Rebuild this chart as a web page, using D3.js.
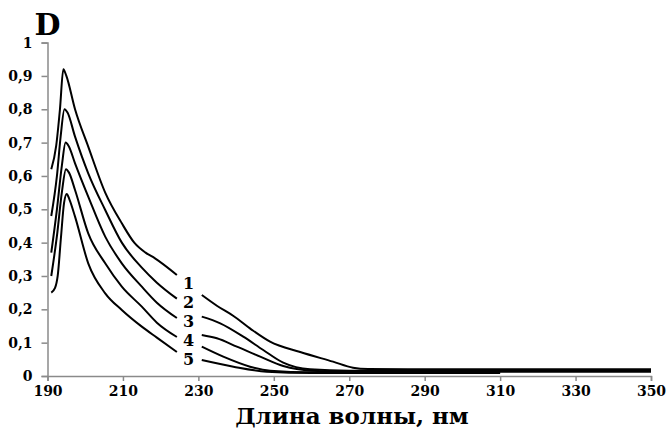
<!DOCTYPE html>
<html>
<head>
<meta charset="utf-8">
<script src="https://cdn.jsdelivr.net/npm/d3@7"></script>
<style>
body{margin:0;background:#fff;}
</style>
</head>
<body>
<div id="chart"></div>
<script>
// spectra D(lambda), 5 curves; null = break where the curve number sits
var curve1=[[191,0.62],[192.3,0.69],[193.3,0.80],[194.2,0.92],[195,0.90],[197.3,0.80],[200.8,0.688],[205.3,0.55],[209.7,0.458],[213,0.40],[216,0.37],[218.5,0.353],[224.3,0.303],
    [227,null],[230.9,0.243],[235,0.21],[239.3,0.18],[244,0.14],[249,0.103],[257,0.072],[265.7,0.043],[271,0.025],[275,0.021],[290,0.02],[350,0.02]];
var curve2=[[191,0.48],[192.5,0.60],[193.5,0.72],[194.5,0.80],[195.3,0.79],[197.3,0.718],[200.8,0.608],[205.3,0.498],[209.7,0.40],[215,0.325],[219,0.28],[224.3,0.232],
    [227,null],[230.9,0.178],[235.8,0.158],[241.9,0.118],[247.2,0.078],[252.5,0.04],[259.6,0.02],[270,0.016],[350,0.016]];
var curve3=[[191,0.37],[192.5,0.50],[193.8,0.63],[194.8,0.70],[195.6,0.69],[197.3,0.638],[200.8,0.538],[205.3,0.418],[209.7,0.338],[215,0.268],[219,0.22],[224.3,0.174],
    [227,null],[230.9,0.123],[234.9,0.113],[240.2,0.088],[246.4,0.058],[252.5,0.03],[260,0.016],[270,0.013],[350,0.013]];
var curve4=[[191,0.30],[192.5,0.42],[193.8,0.55],[194.9,0.62],[195.7,0.61],[197.3,0.558],[200.8,0.428],[205.3,0.338],[209.7,0.268],[215,0.208],[219,0.16],[224.3,0.117],
    [227,null],[230.9,0.088],[236.6,0.058],[243.7,0.028],[249,0.016],[260,0.011],[310,0.011]];
var curve5=[[191,0.25],[192,0.264],[192.7,0.30],[193.6,0.42],[194.4,0.52],[195.1,0.546],[195.8,0.53],[197.3,0.478],[200.8,0.338],[205.3,0.248],[209.7,0.198],[215,0.148],[219,0.115],[224.3,0.072],
    [227,null],[230.9,0.048],[239.3,0.028],[248.1,0.013],[260,0.009],[310,0.009]];

var curves=[curve1,curve2,curve3,curve4,curve5];
var curveNames=["1","2","3","4","5"];
var labelWave=227.4;
var labelD=[0.278,0.220,0.163,0.106,0.049];

var xTicks=[190,210,230,250,270,290,310,330,350];
var yTicks=[0,0.1,0.2,0.3,0.4,0.5,0.6,0.7,0.8,0.9,1];

var font='"DejaVu Serif","Liberation Serif",serif';

var svgWidth=666;
var svgHeight=432;
var margin={top:42.6,right:15,bottom:56,left:47.5};

var svg=d3.select("#chart")
    .append("svg")
    .attr("width",svgWidth)
    .attr("height",svgHeight);

var x=d3.scaleLinear().domain([190,350]).range([margin.left,651]);
var y=d3.scaleLinear().domain([0,1]).range([svgHeight-margin.bottom,margin.top]);

var axisColor="#8a8a8a";

// x axis
var xAxis=svg.append("g")
    .attr("transform",`translate(0,${y(0)})`)
    .call(d3.axisBottom(x).tickValues(xTicks).tickSize(5).tickPadding(5));

// y axis
var yAxis=svg.append("g")
    .attr("transform",`translate(${x(190)},0)`)
    .call(d3.axisLeft(y).tickValues(yTicks).tickSize(6).tickPadding(9)
        .tickFormat(d=>d===0?"0":d===1?"1":d3.format(".1f")(d).replace(".",",")));

svg.selectAll(".domain, .tick line").attr("stroke",axisColor).attr("stroke-width",1.5);
svg.selectAll(".tick text")
    .style("font-family",font)
    .style("font-weight","bold")
    .style("font-size","14px")
    .attr("fill","#000");

// curves
var line=d3.line()
    .defined(d=>d[1]!==null)
    .x(d=>x(d[0]))
    .y(d=>y(d[1]))
    .curve(d3.curveMonotoneX);

svg.append("g").selectAll("path")
    .data(curves)
    .enter()
    .append("path")
    .attr("d",line)
    .attr("fill","none")
    .attr("stroke","#000")
    .attr("stroke-width",2);

// curve numbers in the break
svg.append("g").selectAll("text")
    .data(labelD)
    .enter()
    .append("text")
    .attr("x",x(labelWave))
    .attr("y",d=>y(d))
    .attr("dy","0.35em")
    .attr("text-anchor","middle")
    .style("font-family",font)
    .style("font-weight","bold")
    .style("font-size","16px")
    .text((d,i)=>curveNames[i]);

// axis titles
svg.append("text")
    .attr("x",x(190))
    .attr("y",35)
    .attr("text-anchor","middle")
    .style("font-family",font)
    .style("font-weight","bold")
    .style("font-size","30px")
    .text("D");

svg.append("text")
    .attr("x",352)
    .attr("y",424)
    .attr("text-anchor","middle")
    .style("font-family",font)
    .style("font-weight","bold")
    .style("font-size","23px")
    .text("Длина волны, нм");
</script>
</body>
</html>
